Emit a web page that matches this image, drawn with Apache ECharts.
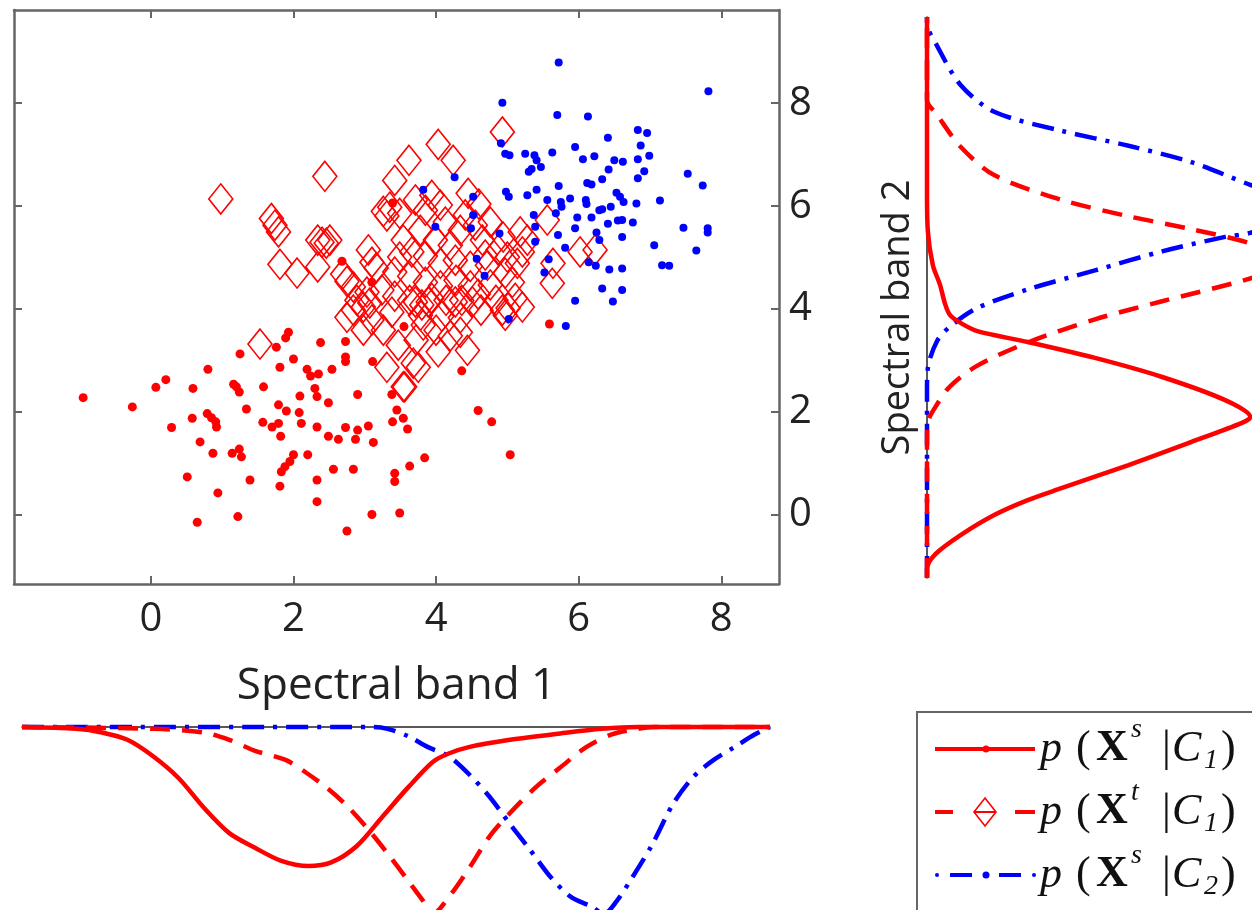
<!DOCTYPE html>
<html>
<head>
<meta charset="utf-8">
<script src="https://cdn.jsdelivr.net/npm/echarts@6.0.0/dist/echarts.min.js"></script>
<style>
html,body{margin:0;padding:0;background:#fff;}
#chart{width:1252px;height:910px;}
</style>
</head>
<body>
<div id="chart"></div>
<script>
// ---------------- DATA ----------------
const tickValues = [0, 2, 4, 6, 8];
const xAxisTitle = 'Spectral band 1';
const yAxisTitle = 'Spectral band 2';

// source-domain samples of class C1 (red dots)
const sourceC1 = [[-0.95,2.28],[-0.26,2.10],[0.07,2.48],[0.21,2.63],[0.29,1.70],[0.59,2.46],[0.80,2.83],[0.58,1.88],[0.79,1.97],[0.85,1.89],[0.91,1.81],[0.92,1.71],[0.69,1.42],[0.87,1.20],[0.51,0.74],[0.94,0.43],[0.65,-0.14],[1.22,-0.03],[1.39,0.68],[1.14,1.20],[1.24,1.28],[1.27,1.13],[1.34,2.06],[1.25,3.13],[1.16,2.54],[1.20,2.49],[1.24,2.39],[1.58,2.49],[1.57,1.80],[1.70,1.71],[1.79,1.78],[1.82,1.53],[1.79,2.14],[1.90,2.02],[1.81,2.87],[1.76,3.26],[1.89,3.44],[1.93,3.55],[2.00,3.03],[2.09,2.31],[2.08,1.99],[2.11,1.78],[2.19,2.83],[2.24,2.70],[2.35,2.74],[2.30,2.46],[2.33,2.30],[2.49,2.18],[2.54,2.83],[2.38,3.35],[2.73,3.37],[2.73,3.07],[2.73,2.98],[2.90,2.34],[2.33,1.71],[2.49,1.53],[2.63,1.47],[2.73,1.70],[2.87,1.47],[2.90,1.65],[3.05,1.73],[3.12,1.41],[3.11,2.98],[3.38,2.34],[3.39,1.81],[2.20,1.17],[2.00,1.17],[1.95,1.04],[1.88,0.94],[1.83,0.84],[1.81,0.56],[2.33,0.68],[2.56,0.89],[2.84,0.89],[2.33,0.26],[3.10,0.01],[2.75,-0.31],[3.42,0.81],[3.42,0.65],[3.49,0.04],[3.63,0.95],[3.45,2.04],[3.54,1.88],[3.60,1.67],[3.55,3.66],[3.84,1.11],[4.36,2.80],[4.59,2.03],[4.78,1.81],[5.04,1.17],[5.59,3.71],[2.68,4.93],[3.10,4.52],[3.39,6.06]];

// target-domain samples of class C1 (red diamonds)
const targetC1 = [[0.98,6.14],[2.44,6.58],[1.69,5.76],[1.74,5.63],[1.79,5.50],[1.81,4.87],[2.05,4.70],[2.34,5.34],[2.40,5.30],[2.46,5.28],[2.51,5.34],[2.34,4.82],[2.69,4.68],[2.75,4.54],[2.84,4.43],[3.05,5.15],[3.10,4.91],[3.16,4.80],[3.26,5.90],[3.31,5.81],[3.35,5.98],[3.49,5.86],[3.42,6.50],[3.62,6.89],[4.03,7.20],[4.24,6.89],[4.93,7.44],[4.45,6.25],[4.60,6.04],[5.56,5.73],[5.18,5.50],[4.94,5.40],[6.02,5.11],[6.23,5.15],[5.64,4.89],[5.63,4.50],[5.28,5.34],[5.21,5.11],[5.14,4.89],[5.00,5.01],[4.97,4.70],[4.72,4.85],[3.80,4.08],[3.89,4.14],[3.71,4.14],[3.82,3.69],[4.03,3.17],[3.75,2.87],[3.56,2.49],[4.34,3.55],[4.44,3.20],[3.47,3.30],[4.93,3.98],[4.97,3.88],[5.01,4.02],[5.21,4.04],[4.27,4.14],[4.51,4.14],[1.53,3.32],[2.75,3.84],[2.84,3.98],[2.98,4.04],[3.07,4.12],[3.26,3.59],[3.31,2.87],[3.54,2.49],[2.98,3.59],[3.63,4.17],[3.68,2.95],[3.54,5.34],[3.49,5.01],[3.71,6.12],[3.85,5.92],[3.94,6.21],[4.06,6.02],[4.13,5.69],[3.78,5.53],[3.99,5.34],[4.20,5.24],[4.34,5.53],[4.41,5.83],[4.55,5.63],[4.65,5.34],[3.66,5.11],[3.85,5.03],[4.06,4.89],[4.27,4.95],[4.48,4.83],[4.69,5.05],[3.42,4.72],[3.63,4.64],[3.85,4.52],[4.06,4.45],[4.28,4.56],[4.48,4.45],[4.76,4.47],[3.24,4.37],[3.42,4.25],[3.94,4.21],[4.14,4.17],[4.36,4.17],[4.59,4.29],[3.38,3.94],[3.78,3.88],[4.08,3.86],[4.34,3.83],[4.63,3.98],[4.84,4.17],[3.03,4.33],[2.89,4.17],[3.10,3.79],[3.72,3.40],[4.00,3.59],[4.20,3.48],[5.07,4.52],[5.11,4.21],[4.87,5.15],[4.76,5.69]];

// source-domain samples of class C2 (blue dots)
const sourceC2 = [[5.72,8.79],[7.82,8.23],[4.93,8.01],[5.70,7.77],[6.13,7.74],[6.83,7.48],[6.96,7.42],[6.41,7.33],[6.87,7.18],[5.95,7.15],[4.91,7.22],[4.97,7.02],[5.03,6.99],[5.25,7.02],[5.38,6.99],[5.41,6.89],[5.63,7.04],[6.06,6.91],[6.22,6.97],[6.50,6.89],[6.62,6.86],[6.83,6.91],[6.99,6.98],[6.92,6.68],[6.83,6.54],[6.42,6.71],[6.33,6.52],[6.12,6.45],[6.18,6.42],[5.72,6.39],[5.47,6.76],[5.30,6.67],[5.34,6.72],[7.53,6.63],[7.74,6.40],[4.26,6.56],[3.82,6.32],[4.98,6.28],[5.02,6.18],[5.28,6.21],[5.41,6.32],[5.56,6.12],[5.75,6.08],[5.76,5.99],[5.88,6.15],[6.10,6.12],[6.11,6.04],[6.29,5.92],[6.33,5.94],[6.45,5.99],[6.53,6.26],[6.58,6.18],[6.63,6.08],[6.81,6.05],[7.14,6.11],[5.68,5.86],[5.98,5.78],[6.18,5.78],[6.41,5.66],[6.55,5.72],[6.61,5.73],[6.76,5.68],[5.95,5.57],[6.25,5.49],[6.29,5.34],[6.61,5.40],[7.47,5.58],[7.81,5.57],[7.81,5.49],[5.71,5.44],[5.81,5.19],[7.06,5.24],[7.65,5.14],[7.17,4.85],[7.27,4.84],[6.14,4.91],[6.24,4.84],[6.43,4.77],[6.61,4.79],[6.33,4.40],[6.61,4.37],[5.58,4.97],[5.52,4.71],[5.39,5.31],[5.39,5.60],[5.37,5.83],[4.89,5.47],[3.99,5.60],[4.52,6.18],[4.52,5.83],[4.49,5.57],[4.57,4.98],[4.68,4.65],[5.95,4.16],[6.48,4.15],[5.02,3.81],[5.82,3.67]];

// marginal densities along band 1: [band1 value, density]
const band1SourceC1 = [[-1.81,0],[-1.05,0.01],[-0.69,0.03],[-0.33,0.07],[0.03,0.16],[0.39,0.28],[0.74,0.44],[1.10,0.58],[1.46,0.66],[1.82,0.73],[2.21,0.76],[2.53,0.74],[2.89,0.65],[3.25,0.49],[3.61,0.33],[3.96,0.19],[4.18,0.145],[4.46,0.11],[5.04,0.07],[5.75,0.035],[6.33,0.01],[6.83,0],[8.69,0]];
const band1TargetC1 = [[-1.81,0],[0.03,0.01],[0.74,0.03],[1.10,0.07],[1.46,0.13],[1.89,0.18],[2.18,0.25],[2.46,0.33],[2.75,0.43],[3.03,0.55],[3.32,0.69],[3.61,0.84],[3.82,0.95],[3.96,1.02],[4.18,0.93],[4.47,0.77],[4.75,0.60],[5.04,0.47],[5.40,0.33],[5.75,0.22],[6.11,0.11],[6.47,0.04],[6.83,0.01],[7.05,0],[8.69,0]];
const band1SourceC2 = [[-1.81,0],[3.10,0],[3.32,0.01],[3.61,0.05],[3.89,0.11],[4.18,0.16],[4.47,0.26],[4.75,0.38],[5.04,0.53],[5.32,0.67],[5.61,0.82],[5.90,0.93],[6.18,0.98],[6.36,1.02],[6.54,0.95],[6.76,0.82],[7.04,0.64],[7.33,0.42],[7.62,0.27],[7.90,0.18],[8.19,0.11],[8.48,0.04],[8.69,0]];

// marginal densities along band 2: [band2 value, density]
const band2SourceC1 = [[-1.22,0],[-1.05,0],[-0.76,0.02],[-0.39,0.08],[0.00,0.16],[0.29,0.24],[0.52,0.32],[0.97,0.48],[1.42,0.63],[1.79,0.75],[1.90,0.77],[2.23,0.71],[2.68,0.56],[3.05,0.40],[3.36,0.24],[3.57,0.12],[3.73,0.08],[3.88,0.055],[4.10,0.043],[4.47,0.031],[4.85,0.014],[5.51,0.002],[6.27,0],[9.67,0]];
const band2TargetC1 = [[-1.22,0],[1.50,0],[1.80,0.002],[2.15,0.024],[2.50,0.055],[2.90,0.12],[3.35,0.24],[3.80,0.40],[4.15,0.56],[4.62,0.78],[4.92,0.86],[5.25,0.78],[5.55,0.63],[5.80,0.48],[6.12,0.32],[6.60,0.16],[7.15,0.08],[7.77,0.024],[8.06,0],[9.67,0]];
const band2SourceC2 = [[-1.22,0],[2.45,0],[2.85,0.002],[3.38,0.024],[3.66,0.055],[4.02,0.12],[4.38,0.24],[4.75,0.40],[5.12,0.56],[5.40,0.71],[5.48,0.77],[5.95,0.93],[6.41,0.77],[6.85,0.63],[7.17,0.48],[7.46,0.32],[7.83,0.16],[8.35,0.08],[9.11,0.024],[9.55,0],[9.67,0]];

// legend entries: [superscript, subscript]
const legendEntries = [['s', '1'], ['t', '1'], ['s', '2']];

// ---------------- STYLE ----------------
const RED = '#ff0000', BLUE = '#0000ff', FRAME = '#666666';
const SANS = '"Open Sans", "DejaVu Sans", sans-serif';
const SERIF = '"Liberation Serif", "DejaVu Serif", serif';
const DASH = [20, 12];
const DASHDOT = [22, 9, 4, 9];

const chart = echarts.init(document.getElementById('chart'), null, {renderer: 'canvas'});

function frameAxis(gridIndex, pos, showLabels, extra) {
  return Object.assign({
    gridIndex: gridIndex, type: 'value', position: pos,
    axisLine: {show: true, onZero: false, lineStyle: {color: FRAME, width: 2.5}},
    axisTick: {show: true, inside: true, length: 8, customValues: tickValues, lineStyle: {color: FRAME, width: 2}},
    axisLabel: {show: showLabels, customValues: tickValues, fontSize: 40, fontFamily: SANS, color: '#222'},
    splitLine: {show: false}
  }, extra);
}

const xMain = {min: -1.92, max: 8.81};
const yMain = {min: -1.34, max: 9.81};

function legendGraphics() {
  const g = [];
  g.push({type: 'rect', shape: {x: 917, y: 712, width: 420, height: 260}, style: {fill: '#fff', stroke: FRAME, lineWidth: 2}, z: 10});
  const rows = [749, 812, 875];
  g.push({type: 'line', shape: {x1: 935, y1: rows[0], x2: 1035, y2: rows[0]}, style: {stroke: RED, lineWidth: 4}, z: 11});
  g.push({type: 'circle', shape: {cx: 986, cy: rows[0], r: 3.5}, style: {fill: RED}, z: 11});
  g.push({type: 'line', shape: {x1: 935, y1: rows[1], x2: 953, y2: rows[1]}, style: {stroke: RED, lineWidth: 4}, z: 11});
  g.push({type: 'line', shape: {x1: 975, y1: rows[1], x2: 996, y2: rows[1]}, style: {stroke: RED, lineWidth: 2}, z: 11});
  g.push({type: 'line', shape: {x1: 1015, y1: rows[1], x2: 1035, y2: rows[1]}, style: {stroke: RED, lineWidth: 4}, z: 11});
  g.push({type: 'polygon', shape: {points: [[985, rows[1] - 14], [996, rows[1]], [985, rows[1] + 14], [974, rows[1]]]}, style: {fill: 'none', stroke: RED, lineWidth: 1.6}, z: 11});
  g.push({type: 'circle', shape: {cx: 937, cy: rows[2], r: 2}, style: {fill: BLUE}, z: 11});
  g.push({type: 'line', shape: {x1: 950, y1: rows[2], x2: 972, y2: rows[2]}, style: {stroke: BLUE, lineWidth: 4}, z: 11});
  g.push({type: 'circle', shape: {cx: 986, cy: rows[2], r: 3.5}, style: {fill: BLUE}, z: 11});
  g.push({type: 'line', shape: {x1: 999, y1: rows[2], x2: 1021, y2: rows[2]}, style: {stroke: BLUE, lineWidth: 4}, z: 11});
  g.push({type: 'circle', shape: {cx: 1034, cy: rows[2], r: 2}, style: {fill: BLUE}, z: 11});
  legendEntries.forEach(function (e, i) {
    const y = rows[i];
    const pieces = [
      ['p', 1040, 0, 'italic 44px ' + SERIF],
      ['(', 1076, 0, '44px ' + SERIF],
      ['X', 1096, 0, 'bold 44px ' + SERIF],
      [e[0], 1131, -19, 'italic 28px ' + SERIF],
      ['|', 1162, 0, '44px ' + SERIF],
      ['C', 1172, 0, 'italic 44px ' + SERIF],
      [e[1], 1204, 12, 'italic 28px ' + SERIF],
      [')', 1221, 0, '44px ' + SERIF]
    ];
    pieces.forEach(function (p) {
      g.push({type: 'text', x: p[1], y: y + p[2], z: 11,
        style: {text: p[0], font: p[3], fill: '#111', align: 'left', verticalAlign: 'middle'}});
    });
  });
  return g;
}

const option = {
  animation: false,
  backgroundColor: '#fff',
  grid: [
    {left: 14, top: 10, width: 765, height: 574},        // main scatter
    {left: 927, top: 17, width: 325, height: 561},       // band 2 densities
    {left: 22, top: 727, width: 748, height: 183}        // band 1 densities
  ],
  xAxis: [
    frameAxis(0, 'bottom', true, Object.assign({}, xMain, {
      axisLabel: {show: true, customValues: tickValues, fontSize: 40, fontFamily: SANS, color: '#222', margin: 16},
      name: xAxisTitle, nameLocation: 'middle', nameGap: 80,
      nameTextStyle: {fontSize: 44, fontFamily: SANS, color: '#222'}
    })),
    frameAxis(0, 'top', false, xMain),
    {gridIndex: 1, type: 'value', min: 0, max: 0.774, show: false},
    {gridIndex: 2, type: 'value', min: -1.81, max: 8.69, position: 'top',
      axisLine: {show: true, onZero: false, lineStyle: {color: '#222', width: 1.5}},
      axisTick: {show: false}, axisLabel: {show: false}, splitLine: {show: false}}
  ],
  yAxis: [
    frameAxis(0, 'right', true, Object.assign({}, yMain, {
      axisLabel: {show: true, customValues: tickValues, fontSize: 40, fontFamily: SANS, color: '#222', margin: 10}
    })),
    frameAxis(0, 'left', false, yMain),
    {gridIndex: 1, type: 'value', min: -1.223, max: 9.670, position: 'left',
      axisLine: {show: true, onZero: false, lineStyle: {color: '#222', width: 1.5}},
      axisTick: {show: false}, axisLabel: {show: false}, splitLine: {show: false},
      name: yAxisTitle, nameLocation: 'middle', nameGap: 10, nameRotate: 90,
      nameTextStyle: {fontSize: 38, fontFamily: SANS, color: '#222', padding: [0, 40, 0, 0]}},
    {gridIndex: 2, type: 'value', min: 0, max: 1, inverse: true, show: false}
  ],
  series: [
    {type: 'scatter', xAxisIndex: 0, yAxisIndex: 0, data: targetC1, symbol: 'diamond', symbolSize: [24, 30],
      itemStyle: {color: 'rgba(0,0,0,0)', borderColor: RED, borderWidth: 1.6, opacity: 1}, z: 2},
    {type: 'scatter', xAxisIndex: 0, yAxisIndex: 0, data: sourceC1, symbol: 'circle', symbolSize: 9,
      itemStyle: {color: RED, opacity: 1}, z: 3},
    {type: 'scatter', xAxisIndex: 0, yAxisIndex: 0, data: sourceC2, symbol: 'circle', symbolSize: 8,
      itemStyle: {color: BLUE, opacity: 1}, z: 4},

    // band 1 marginal densities (bottom panel)
    {type: 'line', xAxisIndex: 3, yAxisIndex: 3, data: band1SourceC2, showSymbol: false, smooth: 0.3, clip: false,
      lineStyle: {color: BLUE, width: 4.5, type: DASHDOT}},
    {type: 'line', xAxisIndex: 3, yAxisIndex: 3, data: band1TargetC1, showSymbol: false, smooth: 0.3, clip: false,
      lineStyle: {color: RED, width: 4.5, type: DASH}},
    {type: 'line', xAxisIndex: 3, yAxisIndex: 3, data: band1SourceC1, showSymbol: false, smooth: 0.3, clip: false,
      lineStyle: {color: RED, width: 4.5, type: 'solid'}},

    // band 2 marginal densities (right panel)
    {type: 'line', xAxisIndex: 2, yAxisIndex: 2, data: band2SourceC2.map(function (d) { return [d[1], d[0]]; }),
      showSymbol: false, smooth: 0.3, clip: false, lineStyle: {color: BLUE, width: 4.5, type: DASHDOT}},
    {type: 'line', xAxisIndex: 2, yAxisIndex: 2, data: band2TargetC1.map(function (d) { return [d[1], d[0]]; }),
      showSymbol: false, smooth: 0.3, clip: false, lineStyle: {color: RED, width: 4.5, type: DASH}},
    {type: 'line', xAxisIndex: 2, yAxisIndex: 2, data: band2SourceC1.map(function (d) { return [d[1], d[0]]; }),
      showSymbol: false, smooth: 0.3, clip: false, lineStyle: {color: RED, width: 4.5, type: 'solid'}}
  ],
  graphic: legendGraphics()
};
chart.setOption(option);
</script>
</body>
</html>
